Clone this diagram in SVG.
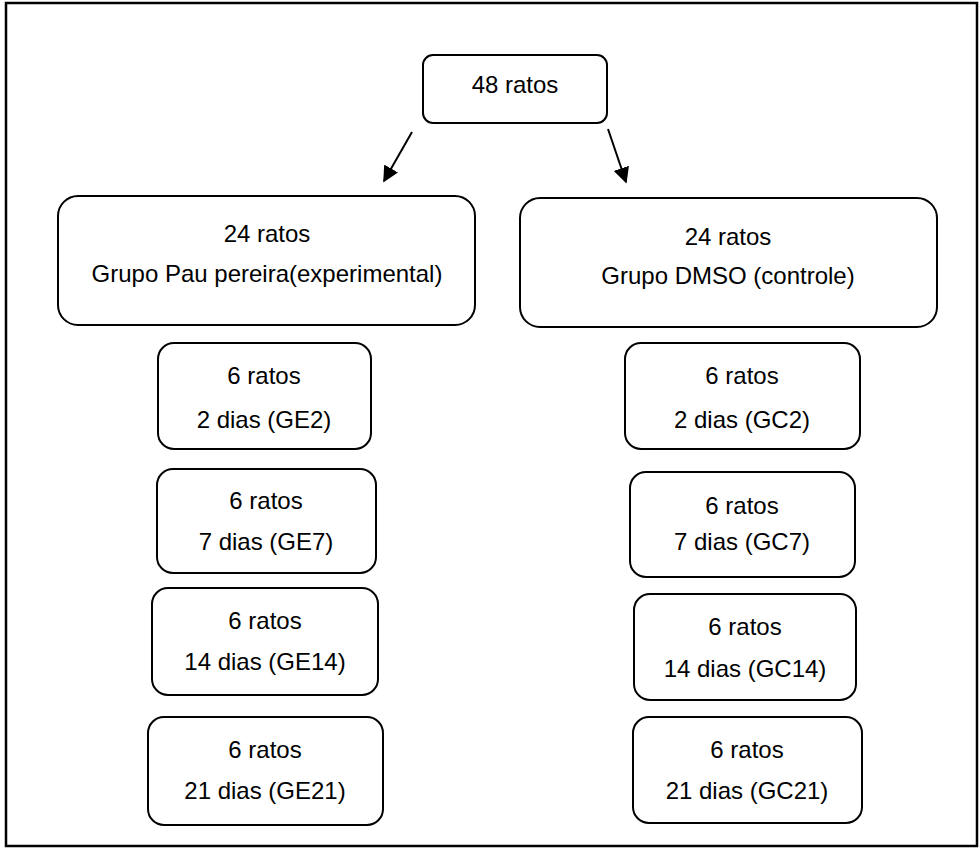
<svg xmlns="http://www.w3.org/2000/svg" width="980" height="854" viewBox="0 0 980 854">
<defs>
<style>
.box{fill:#fff;stroke:#000;stroke-width:2}
.frame{fill:none;stroke:#000;stroke-width:2.5}
text{font-family:"Liberation Sans",Arial,sans-serif;font-size:24px;fill:#000;text-anchor:middle}
.arr{stroke:#000;stroke-width:2;fill:none}
</style>
<marker id="ah" viewBox="0 0 10 10" refX="9" refY="5" markerWidth="8" markerHeight="8" markerUnits="strokeWidth" orient="auto">
<path d="M0,0 L10,5 L0,10 z" fill="#000"/>
</marker>
</defs>
<rect x="0" y="0" width="980" height="854" fill="#fff"/>
<rect class="frame" x="6" y="3" width="971" height="843"/>
<g id="n48">
<rect class="box" x="423" y="55" width="184" height="68" rx="10"/>
<text x="515" y="93">48 ratos</text>
</g>
<g id="connectors">
<line class="arr" x1="412" y1="132" x2="384" y2="181" marker-end="url(#ah)"/>
<line class="arr" x1="608" y1="129" x2="626" y2="182" marker-end="url(#ah)"/>
</g>
<g id="ge">
<rect class="box" x="58" y="196" width="417" height="129" rx="20"/>
<text x="267" y="242">24 ratos</text>
<text x="267" y="282">Grupo Pau pereira(experimental)</text>
</g>
<g id="gc">
<rect class="box" x="520" y="198" width="417" height="129" rx="20"/>
<text x="728" y="245">24 ratos</text>
<text x="728" y="284">Grupo DMSO (controle)</text>
</g>
<g id="ge2">
<rect class="box" x="158" y="343" width="213" height="106" rx="16"/>
<text x="264" y="384">6 ratos</text>
<text x="264" y="428">2 dias (GE2)</text>
</g>
<g id="ge7">
<rect class="box" x="157" y="469" width="219" height="104" rx="16"/>
<text x="266" y="509">6 ratos</text>
<text x="266" y="550">7 dias (GE7)</text>
</g>
<g id="ge14">
<rect class="box" x="152" y="588" width="226" height="107" rx="16"/>
<text x="265" y="629">6 ratos</text>
<text x="265" y="670">14 dias (GE14)</text>
</g>
<g id="ge21">
<rect class="box" x="148" y="717" width="235" height="108" rx="16"/>
<text x="265" y="758">6 ratos</text>
<text x="265" y="799">21 dias (GE21)</text>
</g>
<g id="gc2">
<rect class="box" x="625" y="343" width="235" height="106" rx="16"/>
<text x="742" y="384">6 ratos</text>
<text x="742" y="428">2 dias (GC2)</text>
</g>
<g id="gc7">
<rect class="box" x="630" y="472" width="225" height="105" rx="16"/>
<text x="742" y="514">6 ratos</text>
<text x="742" y="550">7 dias (GC7)</text>
</g>
<g id="gc14">
<rect class="box" x="634" y="594" width="222" height="106" rx="16"/>
<text x="745" y="635">6 ratos</text>
<text x="745" y="677">14 dias (GC14)</text>
</g>
<g id="gc21">
<rect class="box" x="633" y="717" width="229" height="106" rx="16"/>
<text x="747" y="758">6 ratos</text>
<text x="747" y="799">21 dias (GC21)</text>
</g>
</svg>
